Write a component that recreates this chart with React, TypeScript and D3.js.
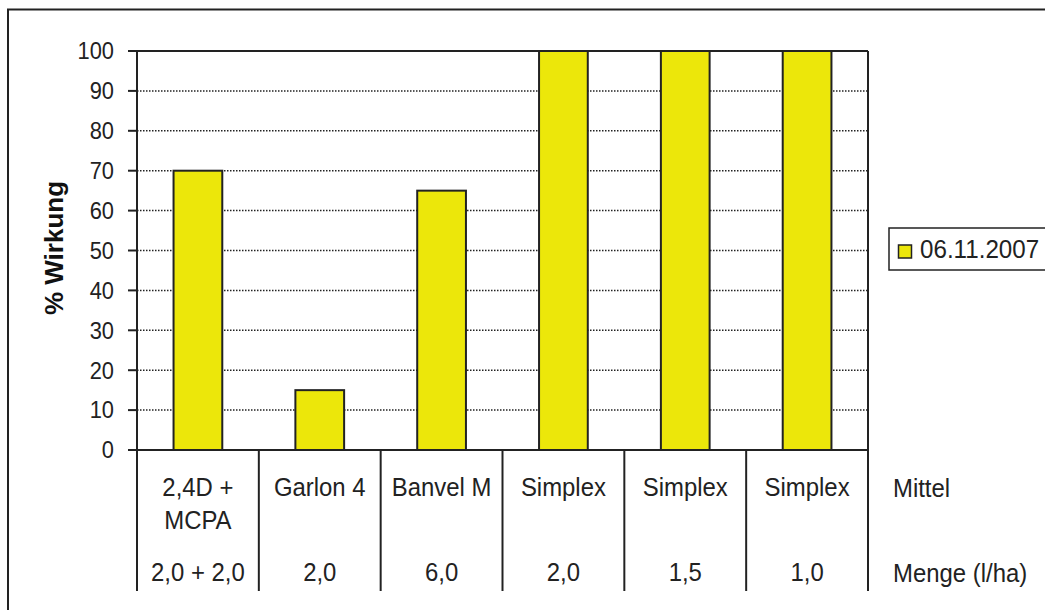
import React from "react";
import * as d3 from "d3";

const mittel: string[][] = [["2,4D +", "MCPA"], ["Garlon 4"], ["Banvel M"], ["Simplex"], ["Simplex"], ["Simplex"]];
const menge: string[] = ["2,0 + 2,0", "2,0", "6,0", "2,0", "1,5", "1,0"];
const wirkung: number[] = [70, 15, 65, 100, 100, 100];
const yTicks: number[] = [0, 10, 20, 30, 40, 50, 60, 70, 80, 90, 100];
const seriesName = "06.11.2007";
const yTitle = "% Wirkung";
const rowLabels = ["Mittel", "Menge (l/ha)"];

const W = 1045;
const H = 610;
const left = 137;
const right = 868;
const top = 51;
const bottom = 450;
const tableBottom = 591;
const yellow = "#ECE70A";
const dark = "#222";
const font = "'Liberation Sans', Arial, Helvetica, sans-serif";

function T({
  x,
  y,
  size = 26,
  sx = 0.92,
  anchor = "start",
  children,
}: {
  x: number;
  y: number;
  size?: number;
  sx?: number;
  anchor?: "start" | "middle" | "end";
  children: React.ReactNode;
}) {
  return (
    <text
      transform={`translate(${x},${y}) scale(${sx},1)`}
      fontSize={size}
      textAnchor={anchor}
      fill="#222"
    >
      {children}
    </text>
  );
}

export default function App() {
  const idx = wirkung.map((_, i) => String(i));
  const x = d3.scaleBand<string>().domain(idx).range([left, right]).padding(0);
  const y = d3.scaleLinear().domain([0, 100]).range([bottom, top]);
  const bw = x.bandwidth() * 0.4;
  const boundaries = idx.map((k) => x(k) as number).concat([right]);

  return (
    <svg
      width={W}
      height={H}
      style={{ position: "absolute", left: 0, top: 0, background: "#fff" }}
      fontFamily={font}
    >
      <rect x={0} y={0} width={W} height={H} fill="#fff" />
      {/* outer frame */}
      <rect x={8} y={9.5} width={W + 20} height={H + 20} fill="none" stroke={dark} strokeWidth={2} />

      {/* gridlines */}
      {yTicks
        .filter((t) => t > 0 && t < 100)
        .map((t) => (
          <line
            key={"g" + t}
            x1={left}
            x2={right}
            y1={y(t)}
            y2={y(t)}
            stroke="#222"
            strokeWidth={1.5}
            strokeDasharray="1.5,1.5"
          />
        ))}

      {/* bars */}
      {wirkung.map((v, i) => {
        const cx = (x(String(i)) as number) + x.bandwidth() / 2;
        return (
          <rect
            key={"b" + i}
            x={cx - bw / 2}
            y={y(v)}
            width={bw}
            height={y(0) - y(v)}
            fill={yellow}
            stroke={dark}
            strokeWidth={2}
          />
        );
      })}

      {/* plot border */}
      <line x1={left} x2={right} y1={top} y2={top} stroke={dark} strokeWidth={2} />
      <line x1={right} x2={right} y1={top} y2={tableBottom} stroke={dark} strokeWidth={2} />
      <line x1={left} x2={left} y1={top} y2={tableBottom} stroke={dark} strokeWidth={2} />
      <line x1={left - 9} x2={right} y1={bottom} y2={bottom} stroke={dark} strokeWidth={2} />

      {/* y ticks */}
      {yTicks.map((t) => (
        <g key={"t" + t}>
          <line x1={left - 9} x2={left} y1={y(t)} y2={y(t)} stroke={dark} strokeWidth={2} />
          <T x={left - 23} y={y(t) + 8.3} size={23.5} sx={0.93} anchor="end">
            {t}
          </T>
        </g>
      ))}

      {/* y title */}
      <text
        transform={`translate(63, 248) rotate(-90)`}
        textAnchor="middle"
        fontSize={26}
        fontWeight="bold"
        fill="#111"
      >
        {yTitle}
      </text>

      {/* table vertical lines */}
      {boundaries.map((bx, i) => (
        <line key={"v" + i} x1={bx} x2={bx} y1={bottom} y2={tableBottom} stroke={dark} strokeWidth={2} />
      ))}

      {/* table text */}
      {idx.map((k, i) => {
        const cx = (x(k) as number) + x.bandwidth() / 2;
        return (
          <g key={"c" + i}>
            {mittel[i].map((line, j) => (
              <T key={j} x={cx} y={496 + j * 33} anchor="middle">
                {line}
              </T>
            ))}
            <T x={cx} y={581} anchor="middle">
              {menge[i]}
            </T>
          </g>
        );
      })}

      <T x={893} y={497}>{rowLabels[0]}</T>
      <T x={893} y={582}>{rowLabels[1]}</T>

      {/* legend */}
      <rect x={889} y={228} width={W} height={42} fill="#fff" stroke={dark} strokeWidth={1.5} />
      <rect x={898.5} y={245} width={13} height={13} fill={yellow} stroke={dark} strokeWidth={1.5} />
      <T x={920} y={258} sx={0.93}>{seriesName}</T>
    </svg>
  );
}
